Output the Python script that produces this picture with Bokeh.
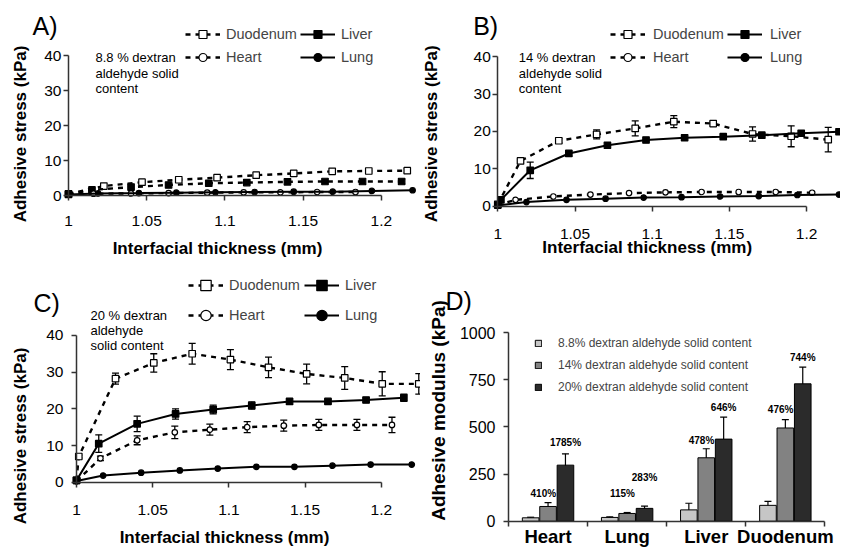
import numpy as np
from bokeh.plotting import figure
from bokeh.layouts import column, row
from bokeh.models import (ColumnDataSource, Whisker, TeeHead, Legend, LegendItem, Label,
                          FixedTicker, NumeralTickFormatter, Range1d)
from bokeh.core.properties import value
from bokeh.embed import file_html
from bokeh.resources import INLINE

FONT = "Liberation Sans"

# ---------------- Panel A : 8.8 % dextran aldehyde ----------------
a_duo_x = [1.0, 1.0226, 1.047, 1.0705, 1.095, 1.12, 1.144, 1.1686, 1.192, 1.2166]
a_duo_y = [0.5, 2.7, 3.8, 4.5, 5.1, 5.8, 6.3, 6.9, 7.0, 7.1]
a_duo_e = [0, 0, 0, 0, 0, 0, 0, 0, 0, 0.6]
a_liv_x = [1.0, 1.015, 1.04, 1.064, 1.0897, 1.114, 1.14, 1.164, 1.188, 1.213]
a_liv_y = [0.3, 1.6, 2.4, 3.0, 3.5, 3.7, 3.9, 4.0, 4.0, 4.0]
a_liv_e = [0, 0, 0, 0, 0, 0, 0, 0, 0, 0.6]
a_hea_x = [1.0, 1.016, 1.04, 1.064, 1.0887, 1.112, 1.1355, 1.159, 1.1835]
a_hea_y = [0.3, 0.5, 0.6, 0.7, 0.8, 0.9, 0.9, 1.0, 1.0]
a_hea_e = [0, 0, 0, 0, 0, 0, 0, 0, 0]
a_lun_x = [1.0, 1.019, 1.045, 1.069, 1.094, 1.119, 1.144, 1.169, 1.194, 1.22]
a_lun_y = [0.3, 0.6, 0.7, 0.8, 0.9, 1.0, 1.1, 1.1, 1.3, 1.5]
a_lun_e = [0, 0, 0, 0, 0, 0, 0, 0, 0, 0]

# ---------------- Panel B : 14 % dextran aldehyde ----------------
b_duo_x = [1.0, 1.0147, 1.0395, 1.064, 1.089, 1.114, 1.1395, 1.165, 1.19, 1.214]
b_duo_y = [0.5, 12.1, 17.5, 19.2, 20.8, 22.6, 22.1, 19.3, 18.7, 17.8]
b_duo_e = [0, 0.5, 0.6, 1.2, 2.0, 1.6, 0.6, 1.9, 2.8, 3.3]
b_liv_x = [1.0, 1.002, 1.021, 1.046, 1.071, 1.096, 1.121, 1.146, 1.171, 1.1965, 1.221]
b_liv_y = [0.3, 1.7, 9.6, 14.1, 16.3, 17.7, 18.3, 18.6, 19.0, 19.5, 19.9]
b_liv_e = [0, 0, 2.2, 0.7, 0, 0, 0, 0, 0, 0, 0]
b_hea_x = [1.0, 1.0115, 1.036, 1.06, 1.085, 1.1086, 1.132, 1.156, 1.18, 1.2036]
b_hea_y = [0.3, 1.7, 2.6, 3.1, 3.5, 3.7, 3.8, 3.8, 3.8, 3.6]
b_hea_e = [0, 0, 0, 0, 0, 0, 0, 0, 0, 0]
b_lun_x = [1.0, 1.0186, 1.0445, 1.0698, 1.0945, 1.119, 1.144, 1.169, 1.194, 1.221]
b_lun_y = [0.2, 1.1, 1.7, 2.0, 2.3, 2.4, 2.6, 2.7, 3.0, 3.1]
b_lun_e = [0, 0, 0, 0, 0, 0, 0, 0, 0, 0]

# ---------------- Panel C : 20 % dextran aldehyde ----------------
c_duo_x = [1.0, 1.0015, 1.0256, 1.0507, 1.0759, 1.101, 1.126, 1.151, 1.176, 1.2006, 1.2246]
c_duo_y = [0.5, 7.0, 28.2, 32.5, 35.0, 33.4, 31.3, 29.5, 28.4, 26.8, 26.8]
c_duo_e = [0, 0.4, 1.5, 2.5, 2.8, 2.7, 2.8, 2.7, 3.1, 3.3, 2.8]
c_liv_x = [1.0, 1.0146, 1.0398, 1.065, 1.0897, 1.115, 1.1398, 1.165, 1.19, 1.2148]
c_liv_y = [0.5, 10.5, 15.9, 18.6, 19.8, 20.9, 22.0, 22.0, 22.4, 23.0]
c_liv_e = [0, 2.4, 2.1, 1.4, 1.2, 1.0, 0.7, 0.6, 0.6, 1.0]
c_hea_x = [1.0, 1.0157, 1.0398, 1.0645, 1.0875, 1.112, 1.136, 1.159, 1.184, 1.207]
c_hea_y = [0.3, 6.5, 11.4, 13.6, 14.3, 15.0, 15.4, 15.6, 15.6, 15.6]
c_hea_e = [0, 0.6, 1.2, 1.7, 1.5, 1.5, 1.5, 1.5, 1.5, 2.1]
c_lun_x = [1.0, 1.0175, 1.0424, 1.0678, 1.0927, 1.118, 1.143, 1.168, 1.193, 1.22]
c_lun_y = [0.3, 1.8, 2.6, 3.2, 3.7, 4.2, 4.2, 4.5, 4.8, 4.8]
c_lun_e = [0, 0, 0, 0, 0, 0, 0, 0, 0, 0]

x_ticks = [1, 1.05, 1.1, 1.15, 1.2]
y_ticks = [0, 10, 20, 30, 40]

# ---------------- Panel D : adhesive modulus ----------------
organs = ["Heart", "Lung", "Liver", "Duodenum"]
mod_88 = [18, 20, 60, 84]
err_88 = [3, 3, 35, 21]
mod_14 = [78, 41, 336, 494]
err_14 = [20, 5, 48, 44]
mod_20 = [297, 68, 435, 728]
err_20 = [60, 12, 117, 89]
pct_14 = ["410%", "115%", "478%", "476%"]
pct_14_at = [145, 145, 427, 590]
pct_20 = ["1785%", "283%", "646%", "744%"]
pct_20_at = [418, 233, 601, 869]
d_ticks = [0, 250, 500, 750, 1000]
d_labels = ["8.8% dextran aldehyde solid content",
            "14% dextran aldehyde solid content",
            "20% dextran aldehyde solid content"]

X_TITLE = "Interfacial thickness (mm)"
Y_TITLE = "Adhesive stress (kPa)"
D_Y_TITLE = "Adhesive modulus (kPa)"

AX = "#333333"


def ranges(W, H, x0_px, x0_val, x_ppu, y0_px, y0_val, y_ppu):
    """Ranges so that value x0_val sits at pixel x0_px (from left) and
    y0_val at pixel y0_px (from top) of a frame that fills the canvas."""
    xs = x0_val - x0_px / x_ppu
    ys = y0_val - (H - y0_px) / y_ppu
    return Range1d(xs, xs + W / x_ppu), Range1d(ys, ys + H / y_ppu)


def base_fig(W, H, xr, yr):
    p = figure(width=W, height=H, x_range=xr, y_range=yr, title=None,
               min_border_left=0, min_border_right=0, min_border_top=0, min_border_bottom=0,
               output_backend="svg", toolbar_location=None,
               outline_line_color=None, background_fill_color="white",
               border_fill_color="white")
    p.grid.visible = False
    return p


def style_axis(ax, tick_size, tick_standoff, tick_out=5):
    ax.axis_line_color = AX
    ax.axis_line_width = 1.5
    ax.major_tick_line_color = AX
    ax.major_tick_line_width = 1.5
    ax.major_tick_in = 0
    ax.major_tick_out = tick_out
    ax.minor_tick_line_color = None
    ax.major_label_text_font = FONT
    ax.major_label_text_font_size = tick_size
    ax.major_label_text_color = "black"
    ax.major_label_standoff = int(round(tick_standoff))


def add_text(p, H, x, y_top, text, size, bold=False, align="left", angle=0.0):
    p.add_layout(Label(x=x, y=H - y_top, x_units="screen", y_units="screen", text=text,
                       text_font=FONT, text_font_size=size,
                       text_font_style="bold" if bold else "normal",
                       text_baseline="middle", text_align=align, text_color="black",
                       angle=angle, angle_units="rad"))


def line_panel(tag, notes, series, W, H, origin, ppu, tag_pos, note_pos, note_step,
               leg_pos, leg_h, leg_sp, leg_standoff, xstand, ystand, xt_pos, yt_pos):
    xr, yr = ranges(W, H, origin[0], 1.0, ppu[0], origin[1], 0.0, ppu[1])
    p = base_fig(W, H, xr, yr)
    items = {}
    for name, xs, ys, es, marker, filled, dashed, leg_solid in series:
        src = ColumnDataSource(dict(x=xs, y=ys))
        ln = p.line("x", "y", source=src, line_color="black",
                    line_width=2.4 if dashed else 2.0,
                    line_dash="5 5" if dashed else "solid")
        sc = p.scatter("x", "y", source=src, marker=marker,
                       size=6.5 if marker == "square" else 5.5,
                       fill_color="black" if filled else "white",
                       line_color="black", line_width=1.2)
        xa, ya, ea = np.array(xs), np.array(ys), np.array(es)
        m = ea > 0
        if m.any():
            esrc = ColumnDataSource(dict(x=xa[m], lo=ya[m] - ea[m], hi=ya[m] + ea[m]))
            p.add_layout(Whisker(source=esrc, base="x", lower="lo", upper="hi",
                                 line_color="black", line_width=1.3,
                                 upper_head=TeeHead(size=7, line_color="black", line_width=1.3),
                                 lower_head=TeeHead(size=7, line_color="black", line_width=1.3)))
        if leg_solid and dashed:
            ln_leg = p.line(x=[np.nan], y=[np.nan], line_color="black", line_width=2.0)
            items[name] = [ln_leg, sc]
        else:
            items[name] = [ln, sc]
    order = ["Duodenum", "Heart", "Liver", "Lung"]
    leg = Legend(items=[LegendItem(label=n, renderers=items[n]) for n in order],
                 location=leg_pos, orientation="vertical", nrows=2,
                 glyph_width=35, glyph_height=leg_h, label_height=leg_h,
                 label_standoff=leg_standoff, spacing=leg_sp, padding=0, margin=0,
                 border_line_color=None, background_fill_alpha=0,
                 label_text_font=FONT, label_text_font_size="14.5px")
    p.add_layout(leg)
    p.xaxis.ticker = FixedTicker(ticks=x_ticks)
    p.xaxis.formatter = NumeralTickFormatter(format="0.[00]")
    p.xaxis.bounds = (1, 1.2)
    p.xaxis.fixed_location = 0
    p.yaxis.ticker = FixedTicker(ticks=y_ticks)
    p.yaxis.bounds = (0, 40)
    p.yaxis.fixed_location = 1
    style_axis(p.xaxis[0], "15.5px", xstand)
    style_axis(p.yaxis[0], "15.5px", ystand)
    add_text(p, H, xt_pos[0], xt_pos[1], X_TITLE, "17px", bold=True, align="center")
    add_text(p, H, yt_pos[0], yt_pos[1], Y_TITLE, "17px", bold=True, align="center",
             angle=np.pi / 2)
    add_text(p, H, tag_pos[0], tag_pos[1], tag, "25px")
    for i, t in enumerate(notes):
        add_text(p, H, note_pos[0], note_pos[1] + i * note_step, t, "13px")
    return p


W1, W2 = 420, 420
H1, H2 = 272, 278

pa = line_panel("A)", ["8.8 % dextran", "aldehyde solid", "content"],
                [("Duodenum", a_duo_x, a_duo_y, a_duo_e, "square", False, True, False),
                 ("Liver", a_liv_x, a_liv_y, a_liv_e, "square", True, True, True),
                 ("Heart", a_hea_x, a_hea_y, a_hea_e, "circle", False, True, False),
                 ("Lung", a_lun_x, a_lun_y, a_lun_e, "circle", True, False, False)],
                W1, H1, (68, 195), (1564, 3.5), (32, 25), (95, 57), 15.5,
                (185, H1 - 67.3), 20, 3, 6, 15, 2, (217, 248), (20, 133.5))

pb = line_panel("B)", ["14 % dextran", "aldehyde solid", "content"],
                [("Duodenum", b_duo_x, b_duo_y, b_duo_e, "square", False, True, False),
                 ("Liver", b_liv_x, b_liv_y, b_liv_e, "square", True, False, False),
                 ("Heart", b_hea_x, b_hea_y, b_hea_e, "circle", False, True, False),
                 ("Lung", b_lun_x, b_lun_y, b_lun_e, "circle", True, False, False)],
                W2, H1, (77.3, 205.7), (1544, 3.74), (52.7, 25), (98.3, 57.3), 15.5,
                (190, H1 - 67.3), 20, 3, 8, 18, 2, (226.7, 247), (11, 133.3))

pc = line_panel("C)", ["20 % dextran", "aldehyde", "solid content"],
                [("Duodenum", c_duo_x, c_duo_y, c_duo_e, "square", False, True, False),
                 ("Liver", c_liv_x, c_liv_y, c_liv_e, "square", True, False, False),
                 ("Heart", c_hea_x, c_hea_y, c_hea_e, "circle", False, True, False),
                 ("Lung", c_lun_x, c_lun_y, c_lun_e, "circle", True, False, False)],
                W1, H2, (76, 209.7), (1524, 3.67), (33, 30), (90, 43), 15,
                (188, H2 - 56), 26, 4, 6, 18, 8, (224, 265), (20, 163.5))

# ---------------- Panel D ----------------
d_xr, d_yr = ranges(W2, H2, 88, 0.0, 79.1, 248.7, 0.0, 0.1887)
pd_ = base_fig(W2, H2, d_xr, d_yr)
xc = np.arange(len(organs)) + 0.5
bar_specs = [(mod_88, err_88, -0.22, "#c6c6c6"),
             (mod_14, err_14, 0.0, "#828282"),
             (mod_20, err_20, 0.22, "#2b2b2b")]
bar_r = []
for vals, errs, off, col in bar_specs:
    v, e = np.array(vals, float), np.array(errs, float)
    src = ColumnDataSource(dict(x=xc + off, top=v, lo=v - e, hi=v + e))
    r = pd_.vbar(x="x", top="top", bottom=0, width=0.21, source=src, fill_color=col,
                 line_color="black", line_width=1)
    bar_r.append(r)
    pd_.add_layout(Whisker(source=src, base="x", lower="lo", upper="hi",
                           line_color="black", line_width=1.2,
                           upper_head=TeeHead(size=7, line_color="black", line_width=1.2),
                           lower_head=TeeHead(size=7, line_color="black", line_width=1.2)))

pd_.text(x=xc - 0.06, y=pct_14_at, text=pct_14, text_font=value(FONT),
         text_font_style="bold", text_font_size="10px", text_align="center",
         text_baseline="middle", text_color="black")
pd_.text(x=xc + 0.22, y=pct_20_at, text=pct_20, text_font=value(FONT),
         text_font_style="bold", text_font_size="10px", text_align="center",
         text_baseline="middle", text_color="black")

dleg = Legend(items=[LegendItem(label=l, renderers=[r]) for l, r in zip(d_labels, bar_r)],
              location=(114, H2 - 124.8), orientation="vertical",
              glyph_width=8, glyph_height=8, label_height=19, label_standoff=16,
              spacing=3, padding=0, margin=0, border_line_color=None,
              background_fill_alpha=0, label_text_font=FONT, label_text_font_size="12px")
pd_.add_layout(dleg)

pd_.xaxis.ticker = FixedTicker(ticks=list(xc), minor_ticks=list(range(len(organs) + 1)))
pd_.xaxis.major_label_overrides = {float(x): o for x, o in zip(xc, organs)}
pd_.xaxis.bounds = (0, len(organs))
pd_.xaxis.fixed_location = 0
pd_.yaxis.ticker = FixedTicker(ticks=d_ticks)
pd_.yaxis.bounds = (0, 1000)
pd_.yaxis.fixed_location = 0
style_axis(pd_.xaxis[0], "18.5px", 0, tick_out=0)
pd_.xaxis.major_label_text_font_style = "bold"
pd_.xaxis.minor_tick_out = 5
pd_.xaxis.minor_tick_in = 0
pd_.xaxis.minor_tick_line_color = AX
pd_.xaxis.minor_tick_line_width = 1.5
style_axis(pd_.yaxis[0], "16px", 8)
add_text(pd_, H2, 18, 138, D_Y_TITLE, "19px", bold=True, align="center", angle=np.pi / 2)
add_text(pd_, H2, 25, 28, "D)", "25px")

layout = column(row(pa, pb), row(pc, pd_))
open("out.html", "w").write(file_html(layout, INLINE))
